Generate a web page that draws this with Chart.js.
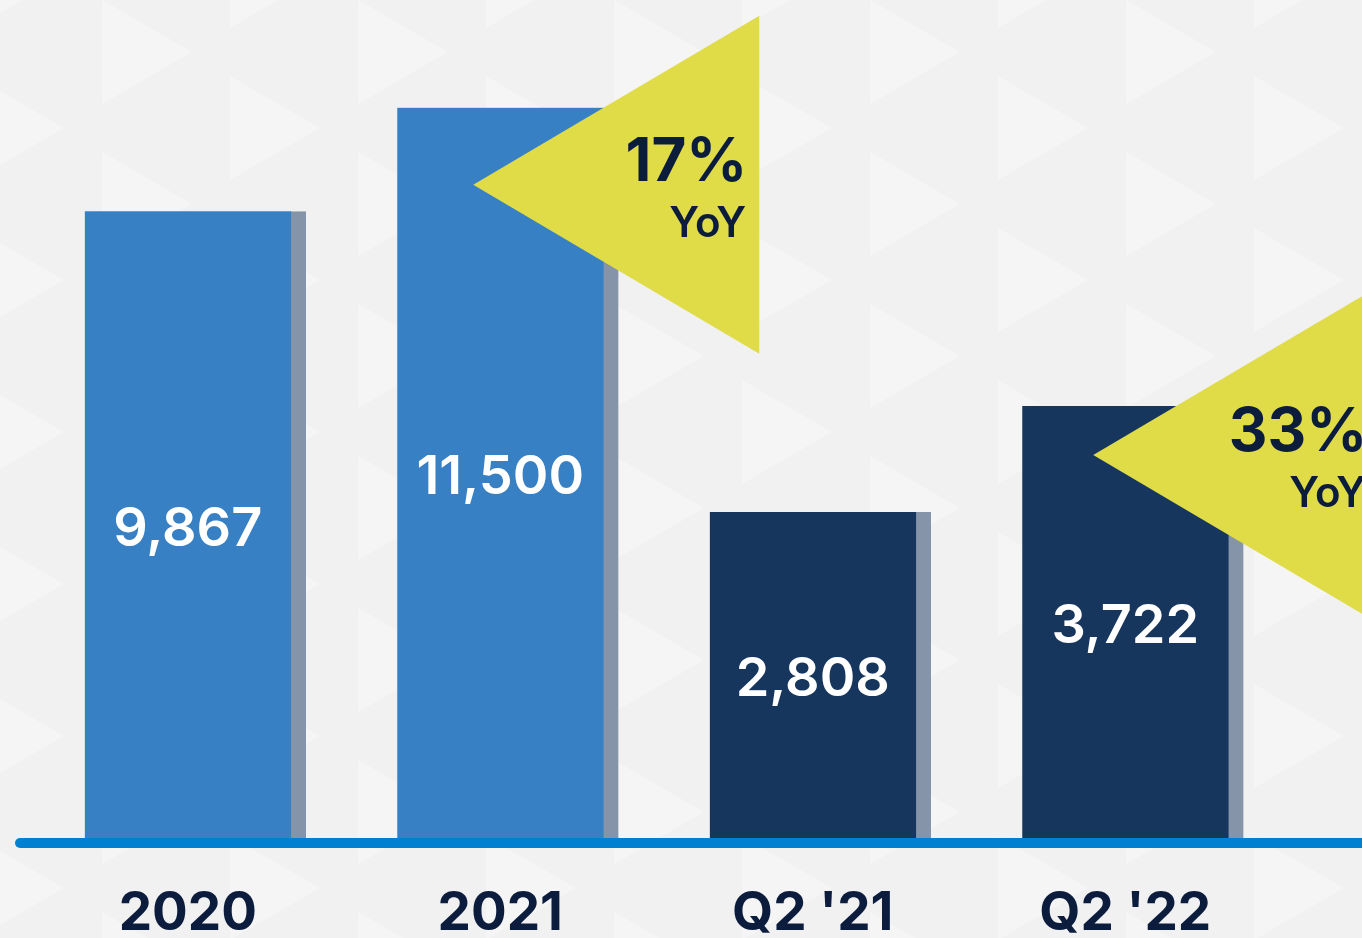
<!DOCTYPE html>
<html>
<head>
<meta charset="utf-8">
<script src="https://cdn.jsdelivr.net/npm/chart.js@4.4.1/dist/chart.umd.min.js"></script>
<style>
  html, body { margin: 0; padding: 0; background: #f1f1f1; }
  #wrap { width: 1362px; height: 938px; }
</style>
</head>
<body>
<div id="wrap"><canvas id="chart" width="1362" height="938"></canvas></div>
<script>
// categories and values
const periods = ['2020', '2021', "Q2 '21", "Q2 '22"];
const annualTotals = [9867, 11500, null, null];
const quarterTotals = [null, null, 2808, 3722];
const growthLabels = ['17%', '33%'];
const growthBars = [1, 3];

const navy = '#0b1c3d';
const shadowGray = '#8594a8';

// faint right-pointing triangles in the backdrop
const backdrop = {
    id: 'backdrop',
    beforeDraw(chart) {
        const c = chart.ctx;
        c.save();
        c.fillStyle = '#f1f1f1';
        c.fillRect(0, 0, chart.width, chart.height);
        c.fillStyle = '#f5f5f5';
        const colW = 128, period = 152, tall = 104, reach = 90;
        for (let col = 0; col * colW < chart.width + colW; col++) {
            const x0 = col * colW - 26;
            const shift = (col % 2) ? 0 : period / 2;
            for (let y = -period + shift; y < chart.height + period; y += period) {
                c.beginPath();
                c.moveTo(x0, y);
                c.lineTo(x0 + reach, y + tall / 2);
                c.lineTo(x0, y + tall);
                c.closePath();
                c.fill();
            }
        }
        c.restore();
    }
};

const decorations = {
    id: 'decorations',
    afterDatasetsDraw(chart) {
        const c = chart.ctx;
        const bars = i => {
            const ds = i < 2 ? 0 : 1;
            return chart.getDatasetMeta(ds).data[i];
        };

        // yellow YoY callouts
        const tipOffsets = [[-27, 77], [-32, 49]];
        growthBars.forEach((bi, k) => {
            const b = bars(bi);
            const tx = b.x - 7.5 + tipOffsets[k][0];
            const ty = b.y + tipOffsets[k][1];
            c.save();
            c.fillStyle = '#dfdc48';
            c.beginPath();
            c.moveTo(tx, ty);
            c.lineTo(tx + 286, ty - 169);
            c.lineTo(tx + 286, ty + 169);
            c.closePath();
            c.fill();
            c.fillStyle = navy;
            c.textAlign = 'right';
            c.textBaseline = 'alphabetic';
            c.font = 'bold 60px Inter';
            c.fillText(growthLabels[k], tx + 274, ty - 4);
            c.font = '600 42px Inter';
            c.fillText('YoY', tx + 273, ty + 52);
            c.restore();
        });

        // value labels inside the bars
        c.save();
        c.fillStyle = '#ffffff';
        c.font = '600 54px Inter';
        c.textAlign = 'center';
        c.textBaseline = 'middle';
        periods.forEach((p, i) => {
            const b = bars(i);
            const v = i < 2 ? annualTotals[i] : quarterTotals[i];
            c.fillText(v.toLocaleString('en-US'), b.x - 7.5, (b.y + b.base) / 2 + 5);
        });
        c.restore();

        // blue baseline
        const base = chart.chartArea.bottom;
        c.save();
        c.strokeStyle = '#0080d0';
        c.lineWidth = 10;
        c.lineCap = 'round';
        c.beginPath();
        c.moveTo(20, base + 5);
        c.lineTo(chart.width + 10, base + 5);
        c.stroke();
        c.restore();
    }
};

new Chart(document.getElementById('chart').getContext('2d'), {
    type: 'bar',
    data: {
        labels: periods,
        datasets: [{
            label: 'Annual',
            data: annualTotals,
            yAxisID: 'y',
            backgroundColor: '#3880c4',
            borderColor: shadowGray,
            borderWidth: { top: 0, right: 15, bottom: 0, left: 0 },
            borderSkipped: false,
            barThickness: 221,
            grouped: false
        }, {
            label: 'Quarter',
            data: quarterTotals,
            yAxisID: 'y2',
            backgroundColor: '#17365e',
            borderColor: shadowGray,
            borderWidth: { top: 0, right: 15, bottom: 0, left: 0 },
            borderSkipped: false,
            barThickness: 221,
            grouped: false
        }]
    },
    options: {
        responsive: false,
        animation: false,
        layout: { padding: { left: 39, right: 73, top: 0, bottom: 0 } },
        plugins: {
            legend: { display: false },
            tooltip: { enabled: false }
        },
        scales: {
            x: {
                grid: { display: false, drawTicks: false },
                border: { display: false },
                ticks: {
                    color: navy,
                    font: { family: 'Inter', size: 53, weight: 'bold' },
                    padding: 44,
                    labelOffset: -7.5,
                    maxRotation: 0
                },
                afterFit(scale) { scale.height = 100; }
            },
            y: { display: false, min: 0, max: 13195 },
            y2: { display: false, min: 0, max: 7220 }
        }
    },
    plugins: [backdrop, decorations]
});
</script>
</body>
</html>
